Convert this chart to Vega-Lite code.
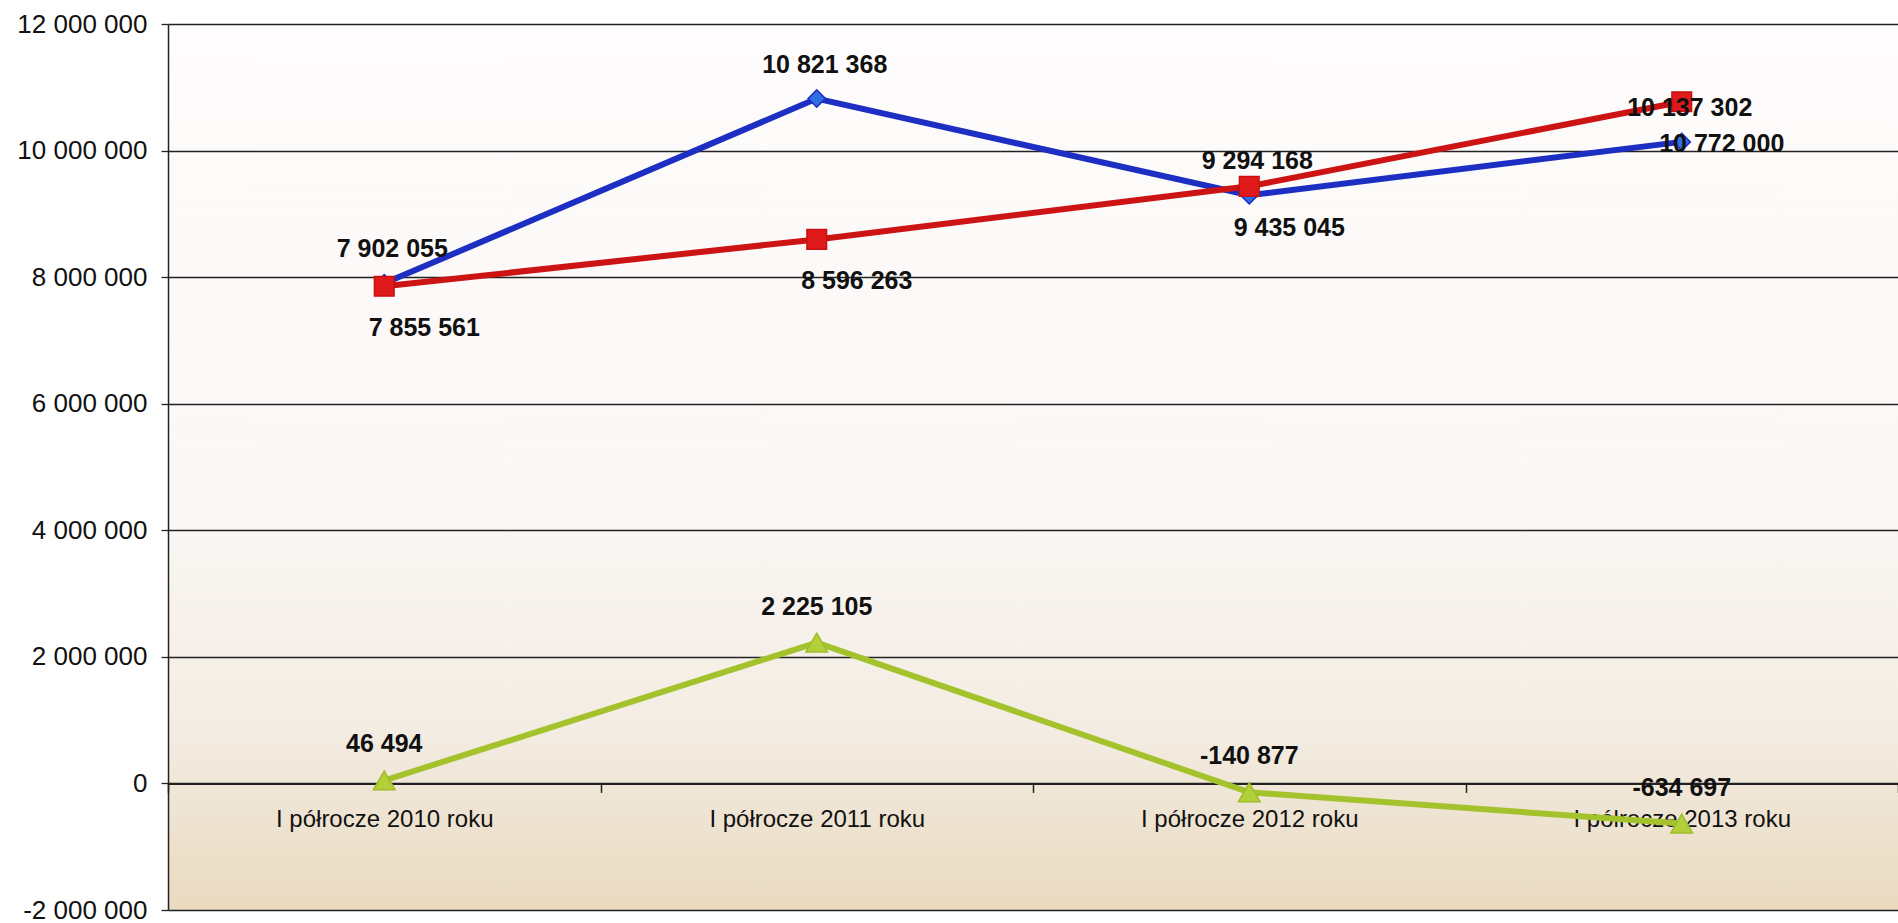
{
  "$schema": "https://vega.github.io/schema/vega-lite/v6.json",
  "width": 1730,
  "height": 886,
  "autosize": {"type": "none"},
  "padding": {"left": 168, "top": 24, "right": 0, "bottom": 13},
  "background": "#ffffff",
  "view": {
    "stroke": null,
    "fill": {
      "gradient": "linear", "x1": 0, "y1": 0, "x2": 0, "y2": 1,
      "stops": [
        {"offset": 0, "color": "#fefcfc"},
        {"offset": 0.55, "color": "#faf7f5"},
        {"offset": 0.8, "color": "#f3ece2"},
        {"offset": 1, "color": "#e9dac0"}
      ]
    }
  },
  "config": {
    "font": "Liberation Sans",
    "locale": {"number": {"decimal": ",", "thousands": " ", "grouping": [3], "currency": ["", ""], "minus": "-"}}
  },
  "data": {
    "values": [
      {"okres": "I półrocze 2010 roku", "seria": "Przychody", "wartosc": 7902055},
      {"okres": "I półrocze 2011 roku", "seria": "Przychody", "wartosc": 10821368},
      {"okres": "I półrocze 2012 roku", "seria": "Przychody", "wartosc": 9294168},
      {"okres": "I półrocze 2013 roku", "seria": "Przychody", "wartosc": 10137302},
      {"okres": "I półrocze 2010 roku", "seria": "Koszty", "wartosc": 7855561},
      {"okres": "I półrocze 2011 roku", "seria": "Koszty", "wartosc": 8596263},
      {"okres": "I półrocze 2012 roku", "seria": "Koszty", "wartosc": 9435045},
      {"okres": "I półrocze 2013 roku", "seria": "Koszty", "wartosc": 10772000},
      {"okres": "I półrocze 2010 roku", "seria": "Wynik", "wartosc": 46494},
      {"okres": "I półrocze 2011 roku", "seria": "Wynik", "wartosc": 2225105},
      {"okres": "I półrocze 2012 roku", "seria": "Wynik", "wartosc": -140877},
      {"okres": "I półrocze 2013 roku", "seria": "Wynik", "wartosc": -634697}
    ]
  },
  "encoding": {
    "x": {
      "field": "okres", "type": "nominal", "sort": null, "bandPosition": 0.5,
      "scale": {"type": "band", "paddingInner": 0, "paddingOuter": 0},
      "axis": {
        "title": null, "labelAngle": 0, "labelFontSize": 24, "labelColor": "#111", "labelLimit": 500,
        "tickBand": "extent", "ticks": true, "tickSize": 9, "tickColor": "#222", "tickWidth": 1.5,
        "domain": true, "domainColor": "#222", "domainWidth": 2, "offset": -126.6,
        "grid": false, "labelPadding": 15
      }
    },
    "y": {
      "field": "wartosc", "type": "quantitative",
      "scale": {"domain": [-2000000, 12000000], "nice": false, "zero": false},
      "axis": {
        "title": null,
        "values": [-2000000, 0, 2000000, 4000000, 6000000, 8000000, 10000000, 12000000],
        "format": ",d", "labelFontSize": 26, "labelColor": "#111",
        "tickSize": 7, "tickColor": "#222", "tickWidth": 1.3, "labelPadding": 14,
        "domainColor": "#222", "domainWidth": 1.5,
        "grid": true, "gridColor": "#222", "gridWidth": 1.3
      }
    }
  },
  "layer": [
    {
      "mark": {"type": "line", "strokeWidth": 6},
      "encoding": {
        "color": {
          "field": "seria", "type": "nominal",
          "scale": {"domain": ["Przychody", "Koszty", "Wynik"], "range": ["#1d2fc2", "#cc1414", "#a3c22c"]},
          "legend": null
        }
      }
    },
    {
      "mark": {"type": "point", "filled": true, "opacity": 1, "strokeWidth": 1.5},
      "encoding": {
        "shape": {
          "field": "seria", "type": "nominal",
          "scale": {"domain": ["Przychody", "Koszty", "Wynik"], "range": ["diamond", "square", "triangle-up"]},
          "legend": null
        },
        "fill": {
          "field": "seria", "type": "nominal",
          "scale": {"domain": ["Przychody", "Koszty", "Wynik"], "range": ["#2f6fe3", "#e01a1a", "#b3cf3a"]},
          "legend": null
        },
        "stroke": {
          "field": "seria", "type": "nominal",
          "scale": {"domain": ["Przychody", "Koszty", "Wynik"], "range": ["#1c2ec0", "#c81010", "#9dbd28"]},
          "legend": null
        },
        "size": {
          "field": "seria", "type": "nominal",
          "scale": {"domain": ["Przychody", "Koszty", "Wynik"], "range": [300, 470, 340]},
          "legend": null
        }
      }
    },
    {
      "transform": [{"filter": "datum.seria === 'Przychody'"}],
      "mark": {"type": "text", "dy": -34, "dx": 8, "fontSize": 25, "fontWeight": "bold", "color": "#111", "baseline": "middle"},
      "encoding": {"text": {"field": "wartosc", "type": "quantitative", "format": ",d"}}
    },
    {
      "transform": [{"filter": "datum.seria === 'Koszty'"}],
      "mark": {"type": "text", "dy": 42, "dx": 40, "fontSize": 25, "fontWeight": "bold", "color": "#111", "baseline": "middle"},
      "encoding": {"text": {"field": "wartosc", "type": "quantitative", "format": ",d"}}
    },
    {
      "transform": [{"filter": "datum.seria === 'Wynik'"}],
      "mark": {"type": "text", "dy": -36, "dx": 0, "fontSize": 25, "fontWeight": "bold", "color": "#111", "baseline": "middle"},
      "encoding": {"text": {"field": "wartosc", "type": "quantitative", "format": ",d"}}
    }
  ]
}
